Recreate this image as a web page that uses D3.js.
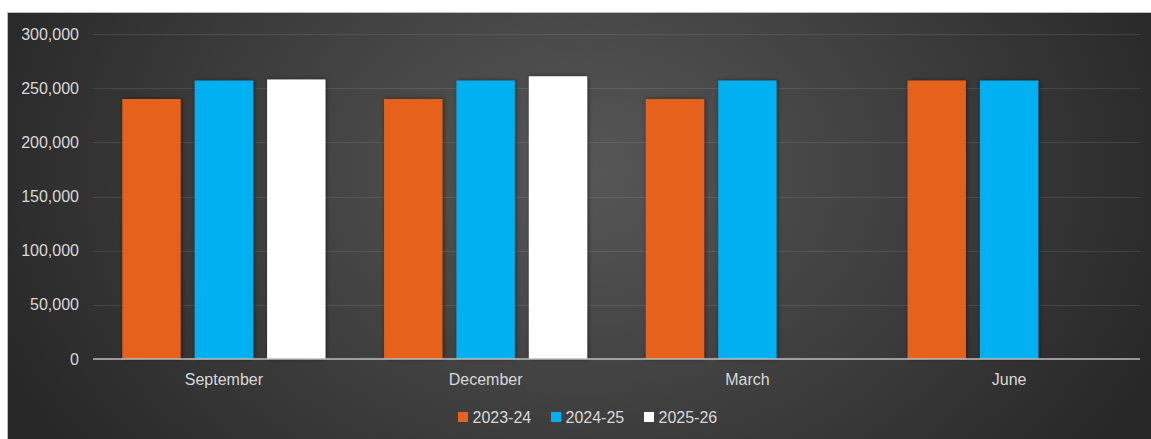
<!DOCTYPE html>
<html>
<head>
<meta charset="utf-8">
<script src="https://cdn.jsdelivr.net/npm/d3@7/dist/d3.min.js"></script>
<style>
  html, body { margin: 0; padding: 0; background: #ffffff; }
  svg { display: block; }
  text { font-family: Arial, "Liberation Sans", sans-serif; }
</style>
</head>
<body>
<svg id="chart" width="1151" height="439"></svg>
<script>
// Quarterly values per financial year
const quarters = ["September", "December", "March", "June"];
const seriesNames = ["2023-24", "2024-25", "2025-26"];
const values2023 = [240000, 240000, 240000, 257000];
const values2024 = [257000, 257000, 257000, 257000];
const values2025 = [258000, 261000, null, null];
const yTicks = [0, 50000, 100000, 150000, 200000, 250000, 300000];
const seriesColors = ["#E6621F", "#00B0F0", "#FFFFFF"];

const seriesValues = [values2023, values2024, values2025];

const svg = d3.select("#chart");
const W = 1151, H = 439;

const defs = svg.append("defs");
const bg = defs.append("radialGradient")
  .attr("id", "bgGrad")
  .attr("gradientUnits", "userSpaceOnUse")
  .attr("cx", 580).attr("cy", 170).attr("r", 640)
  .attr("gradientTransform", "translate(580,170) scale(1,0.75) translate(-580,-170)");
bg.append("stop").attr("offset", "0%").attr("stop-color", "#575757");
bg.append("stop").attr("offset", "55%").attr("stop-color", "#3d3d3d");
bg.append("stop").attr("offset", "100%").attr("stop-color", "#272727");

const shadow = defs.append("filter").attr("id", "barShadow")
  .attr("x", "-20%").attr("y", "-5%").attr("width", "140%").attr("height", "110%");
shadow.append("feDropShadow")
  .attr("dx", 1).attr("dy", 0).attr("stdDeviation", 2.2)
  .attr("flood-color", "#000").attr("flood-opacity", 0.5);

// Chart frame
svg.append("rect")
  .attr("x", 7.5).attr("y", 12.5)
  .attr("width", W - 7).attr("height", H - 12)
  .attr("fill", "url(#bgGrad)")
  .attr("stroke", "#bdbdbd").attr("stroke-width", 1);

const plot = { left: 93, right: 1140, top: 34, bottom: 359 };

const y = d3.scaleLinear().domain([0, 300000]).range([plot.bottom, plot.top]);
const x0 = d3.scaleBand().domain(quarters)
  .range([plot.left, plot.right]).paddingInner(0.224).paddingOuter(0.112);
const x1 = d3.scaleBand().domain(seriesNames)
  .range([0, x0.bandwidth()]).paddingInner(0.194).paddingOuter(0);

// Gridlines
svg.append("g")
  .selectAll("line")
  .data(yTicks.filter(d => d > 0))
  .join("line")
  .attr("x1", plot.left).attr("x2", plot.right)
  .attr("y1", d => Math.round(y(d)) + 0.5).attr("y2", d => Math.round(y(d)) + 0.5)
  .attr("stroke", "#ffffff").attr("stroke-opacity", 0.1).attr("stroke-width", 1);

// Y axis labels
const yAxis = d3.axisLeft(y).tickValues(yTicks).tickSize(0).tickPadding(0)
  .tickFormat(d3.format(","));
const gy = svg.append("g").attr("transform", `translate(${79},0)`).call(yAxis);
gy.select(".domain").remove();
gy.selectAll("text").attr("fill", "#d9d9d9").attr("font-size", 16);

// Bars
const groups = svg.append("g").selectAll("g")
  .data(quarters)
  .join("g")
  .attr("transform", d => `translate(${x0(d)},0)`);

groups.selectAll("rect")
  .data((q, i) => seriesNames.map((s, k) => ({ s, v: seriesValues[k][i], c: seriesColors[k] })))
  .join("rect")
  .filter(d => d.v != null)
  .attr("x", d => x1(d.s))
  .attr("width", x1.bandwidth())
  .attr("y", d => y(d.v))
  .attr("height", d => y(0) - y(d.v))
  .attr("fill", d => d.c)
  .attr("filter", "url(#barShadow)");

// X axis
const xAxis = d3.axisBottom(x0).tickSize(0).tickPadding(15);
const gx = svg.append("g").attr("transform", `translate(0,${plot.bottom})`).call(xAxis);
gx.select(".domain").attr("stroke", "#bfbfbf").attr("stroke-width", 1.5)
  .attr("d", `M${plot.left},0H${plot.right}`);
gx.selectAll("text").attr("fill", "#d9d9d9").attr("font-size", 16);

// Legend
const legendX = [458, 551, 644];
const legend = svg.append("g").selectAll("g")
  .data(seriesNames)
  .join("g")
  .attr("transform", (d, i) => `translate(${legendX[i]},${412})`);
legend.append("rect")
  .attr("width", 10).attr("height", 10)
  .attr("fill", (d, i) => seriesColors[i]);
legend.append("text")
  .attr("x", 14.5).attr("y", 5).attr("dy", "0.35em")
  .attr("fill", "#d9d9d9").attr("font-size", 16)
  .text(d => d);
</script>
</body>
</html>
